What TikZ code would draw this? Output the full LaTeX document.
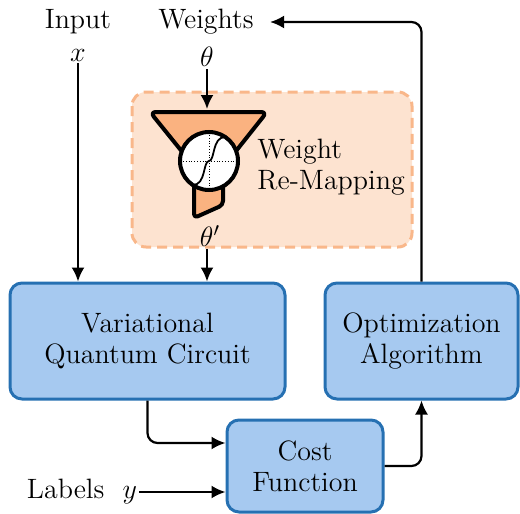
\RequirePackage{fix-cm}
\documentclass[tikz,border=0pt]{standalone}
\usepackage{fontspec}
\usetikzlibrary{arrows.meta,calc}
\definecolor{boxfill}{RGB}{166,201,240}
\definecolor{boxdraw}{RGB}{38,112,178}
\definecolor{wfill}{RGB}{253,227,208}
\definecolor{wdraw}{RGB}{249,183,138}
\definecolor{funnel}{RGB}{250,178,128}
\begin{document}
\begin{tikzpicture}[x=0.5pt,y=-0.5pt,
  font=\fontsize{14}{15.5}\selectfont,
  blockbox/.style={draw=boxdraw,fill=boxfill,line width=1.5pt,rounded corners=6pt,align=center,inner sep=0pt},
  conn/.style={line width=1.1pt,-{Latex[length=7pt,width=6.5pt]}},
  lbl/.style={inner sep=1pt}]
\useasboundingbox (0,0) rectangle (520,514);
% weight re-mapping area
\draw[draw=wdraw,fill=wfill,line width=1.5pt,dash pattern=on 5pt off 3pt,rounded corners=7pt] (132,92) rectangle (412,247);
% blocks
\node[blockbox,minimum width=137.5pt,minimum height=58pt] (vqc) at (147.5,341) {Variational\\Quantum Circuit};
\node[blockbox,minimum width=96.5pt,minimum height=58pt] (opt) at (421.5,341) {Optimization\\Algorithm};
\node[blockbox,minimum width=78pt,minimum height=46pt] (cost) at (305,466) {Cost\\Function};
% labels
\node[lbl] (inp) at (78,22) {Input};
\node[lbl] (xin) at (78,55) {$x$};
\node[lbl] (wts) at (206,22) {Weights};
\node[lbl] (th) at (207,57) {$\theta$};
\node[lbl] (thp) at (210,236) {$\theta'$};
\node[lbl,anchor=west,align=left] (wrmtext) at (255,167) {Weight\\Re-Mapping};
\node[lbl] (labels) at (82,492) {Labels~~$y$};
% funnel icon
\coordinate (fc) at (209,161);
\draw[line width=2pt,line join=round,fill=funnel,rounded corners=2pt] (194,180) -- (194,218) -- (223,205) -- (223,180) -- cycle;
\draw[line width=2pt,line join=round,fill=funnel,rounded corners=3pt] (150,112) -- (267,112) -- (209,185) -- cycle;
\draw[line width=2pt,fill=white] (fc) circle (29);
\draw[densely dotted,line width=0.4pt] (183,161) -- (236,161);
\draw[densely dotted,line width=0.4pt] (209,135) -- (209,188);
\draw[line width=0.9pt] (193,185) .. controls (206,185) and (203,161) .. (209,161) .. controls (215,161) and (212,137) .. (225,137);
% connectors
\draw[conn] (xin.south) -- (vqc.north -| xin.south);
\draw[conn] (th.south) -- (th.south |- 0,109);
\draw[conn] (thp.south -| th.south) -- (vqc.north -| th.south);
\draw[conn,rounded corners=5pt] (vqc.south) |- ($(cost.west)+(0,-23)$);
\draw[conn] (labels.east) -- (cost.west |- labels.east);
\draw[conn,rounded corners=5pt] (cost.east) -| (opt.south);
\draw[conn,rounded corners=5pt] (opt.north) |- ($(wts.east)+(14,0)$);
\end{tikzpicture}
\end{document}
